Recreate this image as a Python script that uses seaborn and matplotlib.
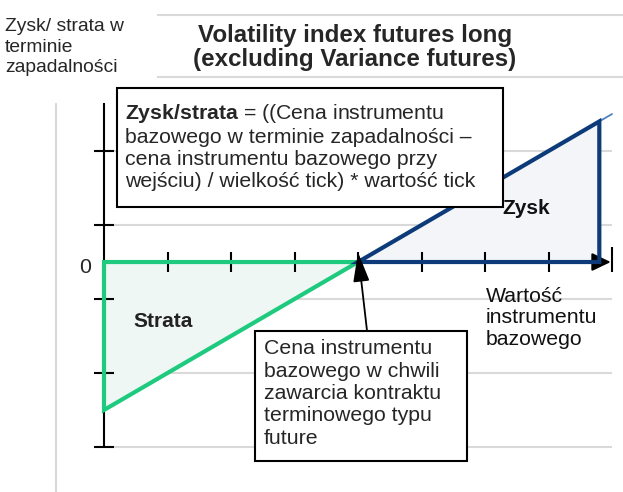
import matplotlib
matplotlib.use('Agg')
from matplotlib import pyplot as plt
from matplotlib.patches import Rectangle
import seaborn as sns
import pandas as pd

# payoff of a long volatility index future
underlying = [0.0, 4.0, 8.0]
pnl = [-2.0, 0.0, 2.0]
entry_price = 4.0

loss_x = [0.0, 4.0, 0.0]
loss_y = [0.0, 0.0, -2.0]
profit_x = [4.0, 7.8, 7.8]
profit_y = [0.0, 0.0, 1.9]

x_ticks = [1, 2, 3, 4, 5, 6, 7, 8]
y_ticks = [1.5, 0.5, -0.5, -1.5, -2.5]
grid_y = [1.5, 0.5, -0.5, -1.5, -2.5]
title_rules = [2.5, 3.34]

GREEN = '#1ecb7e'
NAVY = '#0d3b7a'
THIN_BLUE = '#4f81c7'
GRID = '#d9d9d9'

sns.set_theme(style='white')
plt.rcParams['font.family'] = ['Liberation Sans', 'DejaVu Sans']
plt.rcParams['mathtext.fontset'] = 'custom'
plt.rcParams['mathtext.rm'] = 'Liberation Sans'
plt.rcParams['mathtext.bf'] = 'Liberation Sans:bold'

fig = plt.figure(figsize=(6.23, 4.92), dpi=100)
ax = fig.add_axes([0, 0, 1, 1])
ax.set_xlim(-1.638, 8.173)
ax.set_ylim(-3.108, 3.541)
ax.axis('off')

# light grey rules
ax.hlines(grid_y, 0, 8, color=GRID, lw=1.5, zorder=0)
ax.hlines(title_rules, 0.835, 8.173, color=GRID, lw=1.5, zorder=0)
ax.vlines(-0.756, -3.108, 2.15, color=GRID, lw=1.5, zorder=0)

# shaded loss / profit areas
ax.fill(loss_x, loss_y, color='#eef7f3', zorder=1)
ax.fill(profit_x, profit_y, color='#f3f5f9', zorder=1)

# thin payoff line underneath
df = pd.DataFrame({'underlying': underlying, 'pnl': pnl})
sns.lineplot(data=df, x='underlying', y='pnl', color=THIN_BLUE, lw=1.3,
             ax=ax, zorder=2)

# axes with ticks
ax.vlines(0, -2.49, 2.15, color='black', lw=1.5, zorder=3)
ax.hlines(y_ticks, -0.157, 0.157, color='black', lw=1.5, zorder=3)
ax.vlines(x_ticks[:-1], -0.135, 0.135, color='black', lw=1.5, zorder=3)
ax.vlines(x_ticks[-1], -0.14, 0.2, color='black', lw=1.5, zorder=3)
ax.annotate('', xy=(x_ticks[-1] - 0.02, 0), xytext=(0, 0),
            arrowprops=dict(arrowstyle='-|>,head_length=1.15,head_width=0.55',
                            mutation_scale=10, color='black', lw=1.5,
                            shrinkA=0, shrinkB=0), zorder=3)

# thick payoff outlines
ax.fill(loss_x, loss_y, fill=False, edgecolor=GREEN, lw=3, zorder=4,
        joinstyle='miter')
ax.fill(profit_x, profit_y, fill=False, edgecolor=NAVY, lw=3, zorder=4,
        joinstyle='miter')

ax.text(-0.299, -0.149, '0', ha='center', va='baseline', fontsize=15.3)

# labels
ax.text(-1.559, 3.297, 'Zysk/ strata w\nterminie\nzapadalności',
        ha='left', va='top', fontsize=13.9, linespacing=1.27)
ax.text(3.953, 3.212, 'Volatility index futures long\n(excluding Variance futures)',
        ha='center', va='top', fontsize=17.4, fontweight='bold', linespacing=1.02)
ax.text(0.457, -0.878, 'Strata', ha='left', va='baseline',
        fontsize=15, fontweight='bold', color='#222222', zorder=6)
ax.text(6.268, 0.649, 'Zysk', ha='left', va='baseline',
        fontsize=15, fontweight='bold', color='#111111', zorder=6)
ax.text(6.016, -0.331, 'Wartość\ninstrumentu\nbazowego', ha='left', va='top',
        fontsize=15.3, linespacing=1.17, color='#111111')

# formula box
ax.add_patch(Rectangle((0.205, 0.743), 6.078, 1.608, facecolor='white',
                       edgecolor='black', lw=1.5, zorder=5))
ax.text(0.331, 2.169,
        r'$\mathbf{Zysk/strata}$ = ((Cena instrumentu' '\n'
        'bazowego w terminie zapadalności –\n'
        'cena instrumentu bazowego przy\n'
        'wejściu) / wielkość tick) * wartość tick',
        ha='left', va='top', fontsize=15.3, linespacing=1.21, zorder=6)

# entry price box with arrow
ax.add_patch(Rectangle((2.378, -2.689), 3.339, 1.757, facecolor='white',
                       edgecolor='black', lw=1.5, zorder=5))
ax.text(2.52, -1.047,
        'Cena instrumentu\nbazowego w chwili\nzawarcia kontraktu\n'
        'terminowego typu\nfuture',
        ha='left', va='top', fontsize=15.3, linespacing=1.22, zorder=6)
ax.annotate('', xy=(entry_price, 0.13), xytext=(4.142, -0.932),
            arrowprops=dict(arrowstyle='-|>,head_length=1.8,head_width=0.5',
                            mutation_scale=10, color='black', lw=1.3,
                            shrinkA=0, shrinkB=0), zorder=6)

fig.savefig('out.png', dpi=100)
